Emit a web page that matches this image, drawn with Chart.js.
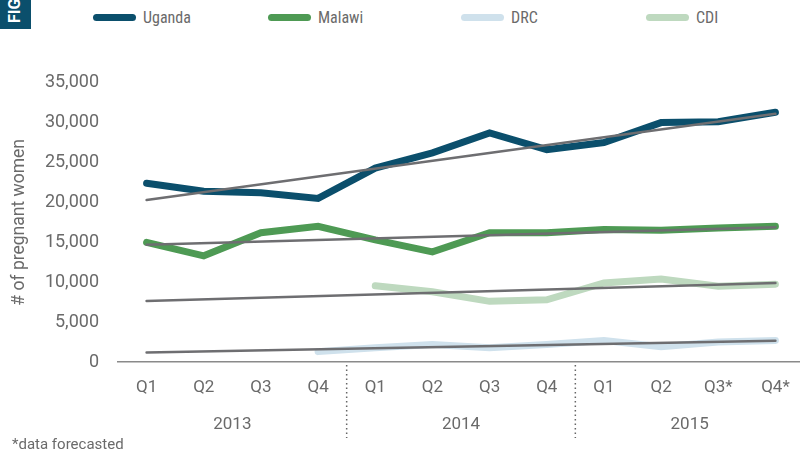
<!DOCTYPE html>
<html>
<head>
<meta charset="utf-8">
<script src="https://cdn.jsdelivr.net/npm/chart.js"></script>
<style>
  html, body { margin: 0; padding: 0; background: #fff; overflow: hidden; }
  body { width: 800px; height: 454px; position: relative; font-family: Roboto, "Noto Sans", sans-serif; }
  #wrap { position: absolute; left: 0; top: 0; width: 806px; height: 454px; }
  .fig { position: absolute; left: 0; top: 0; width: 31px; height: 29px; background: #0b4f6c; overflow: hidden; }
  .fig span { position: absolute; left: 15px; top: 23px; transform: rotate(-90deg); transform-origin: 0 0;
    color: #fff; font: bold 16px Roboto, sans-serif; white-space: nowrap; margin-top: 0; margin-left: -10px; }
  .legend-item { position: absolute; top: 8px; height: 18px; display: flex; align-items: center;
    font-family: "Roboto Condensed", "Liberation Sans Narrow", "DejaVu Sans Condensed", sans-serif; font-size: 16px; color: #6a6a6a; }
  .legend-item i { display: inline-block; width: 43px; height: 7px; border-radius: 4px; margin-right: 7px; }
  .note { position: absolute; left: 12px; top: 435px; font-size: 15px; color: #6a6a6a; }
</style>
</head>
<body>
<div class="fig"><span>FIGURE</span></div>
<div id="legend"></div>
<div id="wrap"><canvas id="chart" width="806" height="454"></canvas></div>
<div class="note">*data forecasted</div>
<script>
// Data
const quarters = ['Q1', 'Q2', 'Q3', 'Q4', 'Q1', 'Q2', 'Q3', 'Q4', 'Q1', 'Q2', 'Q3*', 'Q4*'];
const years = ['2013', '2014', '2015'];
const uganda = [22400, 21400, 21200, 20500, 24300, 26200, 28700, 26600, 27500, 30000, 30100, 31300];
const malawi = [15000, 13300, 16200, 17000, 15300, 13800, 16200, 16200, 16600, 16500, 16800, 17000];
const drc = [null, null, null, 1300, 1800, 2200, 1800, 2200, 2700, 1900, 2500, 2700];
const cdi = [null, null, null, null, 9550, 8800, 7600, 7800, 9900, 10400, 9500, 9750];
// trend lines: start and end values
const ugandaTrend = [20300, null, null, null, null, null, null, null, null, null, null, 31100];
const malawiTrend = [14700, null, null, null, null, null, null, null, null, null, null, 16900];
const cdiTrend = [7650, null, null, null, null, null, null, null, null, null, null, 9900];
const drcTrend = [1200, null, null, null, null, null, null, null, null, null, null, 2650];
const yTicks = [0, 5000, 10000, 15000, 20000, 25000, 30000, 35000];

const colors = { Uganda: '#0b4f6c', Malawi: '#4e9a54', DRC: '#cfe1ec', CDI: '#bed9bf' };
const trendColor = '#6e6e71';
const textColor = '#6a6a6a';

// HTML legend
const legendPos = { Uganda: 93, Malawi: 268, DRC: 461, CDI: 646 };
const legend = document.getElementById('legend');
Object.keys(colors).forEach(name => {
    const item = document.createElement('div');
    item.className = 'legend-item';
    item.style.left = legendPos[name] + 'px';
    item.innerHTML = '<i style="background:' + colors[name] + '"></i>' + name;
    legend.appendChild(item);
});

function series(label, data) {
    return {
        label: label,
        data: data,
        borderColor: colors[label],
        backgroundColor: colors[label],
        borderWidth: 7,
        borderCapStyle: 'round',
        borderJoinStyle: 'miter',
        pointRadius: 0,
        tension: 0,
        order: 2
    };
}

function trend(data) {
    return {
        label: 'trend',
        data: data,
        borderColor: trendColor,
        borderWidth: 2.5,
        borderCapStyle: 'round',
        pointRadius: 0,
        spanGaps: true,
        order: 1
    };
}

// years and separators under the quarter labels
const yearAxisPlugin = {
    id: 'yearAxis',
    afterDraw(chart) {
        const ctx = chart.ctx;
        const x = chart.scales.x;
        const per = quarters.length / years.length;
        ctx.save();
        ctx.fillStyle = textColor;
        ctx.font = '17px Roboto, sans-serif';
        ctx.textAlign = 'center';
        ctx.textBaseline = 'middle';
        years.forEach((yr, i) => {
            const a = x.getPixelForValue(i * per);
            const b = x.getPixelForValue(i * per + per - 1);
            ctx.fillText(yr, (a + b) / 2, 425);
            if (i > 0) {
                const sx = (x.getPixelForValue(i * per - 1) + a) / 2;
                ctx.strokeStyle = '#666';
                ctx.lineWidth = 1.5;
                ctx.setLineDash([1.5, 3]);
                ctx.beginPath();
                ctx.moveTo(sx, 365);
                ctx.lineTo(sx, 438);
                ctx.stroke();
            }
        });
        ctx.restore();
    }
};

new Chart(document.getElementById('chart').getContext('2d'), {
    type: 'line',
    data: {
        labels: quarters,
        datasets: [
            trend(ugandaTrend), trend(malawiTrend), trend(cdiTrend), trend(drcTrend),
            series('Uganda', uganda), series('Malawi', malawi), series('DRC', drc), series('CDI', cdi)
        ]
    },
    options: {
        responsive: false,
        animation: false,
        layout: { padding: { top: 82.7, right: 2, left: 0, bottom: 0 } },
        plugins: {
            legend: { display: false },
            tooltip: { enabled: false }
        },
        scales: {
            x: {
                offset: true,
                grid: { display: false, drawTicks: false },
                border: { display: true, color: '#8a8a8a', width: 1.5, dash: [2, 3] },
                ticks: { color: textColor, font: { size: 17, family: 'Roboto' }, padding: 16, maxRotation: 0, autoSkip: false },
                afterFit(scale) { scale.height = 92; }
            },
            y: {
                min: 0,
                max: 35000,
                grid: { display: false, drawTicks: false },
                border: { display: false },
                afterBuildTicks(scale) { scale.ticks = yTicks.map(v => ({ value: v })); },
                ticks: {
                    color: textColor,
                    font: { size: 18, family: 'Roboto' },
                    padding: 19,
                    callback: v => v.toLocaleString('en-US')
                },
                title: {
                    display: true,
                    text: '# of pregnant women',
                    color: textColor,
                    font: { size: 17.5, family: 'Roboto' },
                    padding: { top: 9, bottom: 0 }
                },
                afterFit(scale) { scale.width = 118; }
            }
        }
    },
    plugins: [yearAxisPlugin]
});
</script>
</body>
</html>
